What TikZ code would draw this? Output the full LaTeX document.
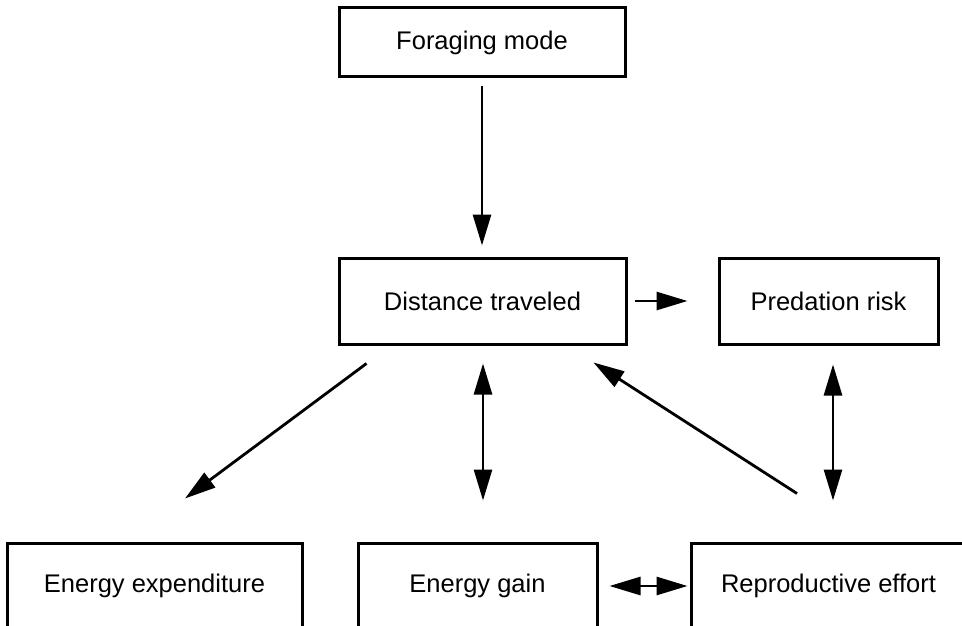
\documentclass[tikz,border=0pt]{standalone}
\usepackage{fontspec}
\setmainfont{Liberation Sans}
\usetikzlibrary{arrows.meta,calc}

\tikzset{
    box/.style={draw, line width=3pt, inner sep=0pt, minimum height=86pt,
        font=\fontsize{25.5}{30}\selectfont},
    arr/.style={line width=2.8pt, -{Triangle[length=31pt,width=18pt]}},
    dbl/.style={line width=2.8pt, {Triangle[length=31pt,width=18pt]}-{Triangle[length=31pt,width=18pt]}}
}

\begin{document}
\begin{tikzpicture}[x=1pt, y=-1pt]
    \useasboundingbox (0,0) rectangle (962,626);

    % kutular
    \node[box, minimum width=286pt, minimum height=69pt] (forage) at (482,42.5) {Foraging mode};
    \node[box, minimum width=287pt] (dist) at (482.5,301) {Distance traveled};
    \node[box, minimum width=219pt] (pred) at (828.5,301) {Predation risk};
    \node[box, minimum width=295pt] (expend) at (154.5,586) {Energy expenditure};
    \node[box, minimum width=239pt] (gain) at (477.5,586) {Energy gain};
    \node[box, minimum width=275pt] (repro) at (828.5,586) {Reproductive effort};

    % oklar
    \draw[arr, shorten <=8pt, shorten >=11pt] (forage.south) -- (forage.south |- dist.north);
    \draw[arr, shorten <=7pt, shorten >=30pt] (dist.east) -- (pred.west);
    \draw[arr] ($(dist.south west)+(29,18)$) -- ($(expend.north)+(30.5,-43)$);
    \draw[dbl] ($(dist.south)+(0.5,18)$) -- ($(dist.south |- gain.north)+(0.5,-41)$);
    \draw[arr] ($(repro.north)+(-31.5,-48)$) -- ($(dist.south east)+(-34,17)$);
    \draw[dbl] ($(pred.south)+(4.5,19)$) -- ($(pred.south |- repro.north)+(4.5,-41)$);
    \draw[dbl, shorten <=11pt, shorten >=2pt] (gain.east) -- (repro.west);

\end{tikzpicture}
\end{document}
